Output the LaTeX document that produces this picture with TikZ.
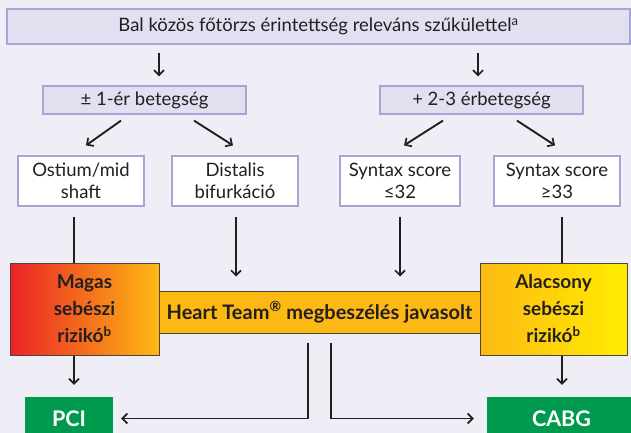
\documentclass[tikz,border=0pt]{standalone}
\usepackage{fontspec}
\setmainfont{Lato}
\usetikzlibrary{arrows.meta,calc}
\definecolor{bg}{HTML}{EFEEF7}
\definecolor{lavfill}{HTML}{E1DFF0}
\definecolor{lavline}{HTML}{A9A4D6}
\definecolor{ink}{HTML}{231F20}
\definecolor{riskred}{HTML}{EC2227}
\definecolor{amber}{HTML}{FDB913}
\definecolor{lemon}{HTML}{FFED00}
\definecolor{pcigreen}{HTML}{009A4E}
\definecolor{edge}{HTML}{4A4540}
\tikzset{
  txt/.style={font=\fontsize{18.5}{22}\selectfont, text=ink, align=center, inner sep=0pt},
  lavbox/.style={txt, fill=lavfill, draw=lavline, line width=1.2pt},
  whitebox/.style={txt, fill=white, draw=lavline, line width=1.2pt},
  riskbox/.style={font=\bfseries\fontsize{19}{27}\selectfont, text=ink, align=center,
    inner sep=0pt, draw=edge, line width=1pt},
  outcome/.style={font=\bfseries\fontsize{21.5}{26}\selectfont, text=white, fill=pcigreen,
    inner sep=0pt},
  plain/.style={draw=ink, line width=1.9pt},
  arr/.style={plain, -{Straight Barb[length=5pt,width=10pt,line width=1.7pt]}},
}
\begin{document}
\begin{tikzpicture}[x=1pt,y=-1pt]
\useasboundingbox[fill=bg] (0,0) rectangle (631,433);
\clip (0,0) rectangle (631,433);

% top condition
\node[lavbox, minimum width=623pt, minimum height=35pt] (top) at (318.5,26.5)
  {Bal közös főtörzs érintettség releváns szűkülettel\textsuperscript{a}};

% vessel disease split
\node[lavbox, minimum width=203pt, minimum height=28pt] (b2l) at (144.5,100) {± 1-ér betegség};
\node[lavbox, minimum width=203pt, minimum height=28pt] (b2r) at (481.5,100) {+ 2-3 érbetegség};

% anatomy / syntax boxes
\node[whitebox, minimum width=126pt, minimum height=50pt] (ost) at (81,181) {Ostium/mid\\shaft};
\node[whitebox, minimum width=126pt, minimum height=50pt] (dist) at (235,181) {Distalis\\bifurkáció};
\node[whitebox, minimum width=120pt, minimum height=50pt] (syl) at (400,181) {Syntax score\\≤32};
\node[whitebox, minimum width=126pt, minimum height=50pt] (syh) at (557,181) {Syntax score\\≥33};

% heart team bar and risk boxes
\node[riskbox, fill=amber, minimum width=321pt, minimum height=42pt,
  font=\bfseries\fontsize{20}{24}\selectfont] (bar) at (319.5,312)
  {Heart Team\textsuperscript{®} megbeszélés javasolt};
\node[riskbox, left color=riskred, right color=amber, minimum width=149pt, minimum height=92pt] (mag)
  at (84.5,309) {Magas\\sebészi\\rizikó\textsuperscript{b}};
\node[riskbox, left color=amber, right color=lemon, minimum width=147pt, minimum height=92pt] (ala)
  at (553.5,309) {Alacsony\\sebészi\\rizikó\textsuperscript{b}};

% outcomes
\node[outcome, minimum width=88pt, minimum height=43pt] (pci) at (69,418.5) {PCI};
\node[outcome, minimum width=149pt, minimum height=43pt] (cabg) at (561.5,418.5) {CABG};

% column positions
\coordinate (c1) at (159,0);
\coordinate (c2) at (478,0);
\coordinate (cA) at (74,0);
\coordinate (cB) at (236,0);
\coordinate (cC) at (400,0);
\coordinate (cD) at (562,0);
\coordinate (h1) at (308,0);
\coordinate (h2) at (331,0);

% connectors
\draw[arr, shorten <=8pt, shorten >=9pt] (top.south -| c1) -- (b2l.north -| c1);
\draw[arr, shorten <=8pt, shorten >=9pt] (top.south -| c2) -- (b2r.north -| c2);

\draw[arr] ([xshift=-23.5pt,yshift=-6pt]b2l.south) -- ([xshift=5pt,yshift=10pt]ost.north);
\draw[arr] ([xshift=49.5pt,yshift=-6pt]b2l.south) -- ([xshift=-2pt,yshift=10pt]dist.north);
\draw[arr] ([xshift=-38.5pt,yshift=-6pt]b2r.south) -- ([xshift=4pt,yshift=10pt]syl.north);
\draw[arr] ([xshift=35.5pt,yshift=-6pt]b2r.south) -- ([xshift=-2pt,yshift=10pt]syh.north);

\draw[plain, shorten <=10pt] (ost.south -| cA) -- (mag.north -| cA);
\draw[arr, shorten <=10pt, shorten >=14pt] (dist.south -| cB) -- (bar.north -| cB);
\draw[arr, shorten <=10pt, shorten >=14pt] (syl.south -| cC) -- (bar.north -| cC);
\draw[plain, shorten <=10pt] (syh.south -| cD) -- (ala.north -| cD);

\draw[arr, shorten >=12pt] (mag.south -| cA) -- (pci.north -| cA);
\draw[arr, shorten >=12pt] (ala.south -| cD) -- (cabg.north -| cD);

\draw[arr, shorten <=9pt, shorten >=8pt] (bar.south -| h1) |- (pci.east);
\draw[arr, shorten <=9pt, shorten >=13pt] (bar.south -| h2) |- (cabg.west);
\end{tikzpicture}
\end{document}
